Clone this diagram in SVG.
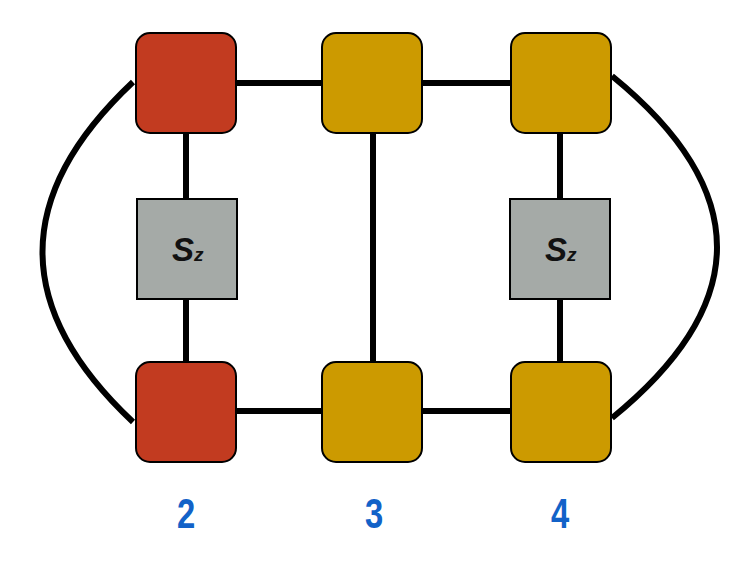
<svg xmlns="http://www.w3.org/2000/svg" width="751" height="564" viewBox="0 0 751 564">
<style>
.red{fill:#c23b20;stroke:#000;stroke-width:2}
.gold{fill:#cc9a00;stroke:#000;stroke-width:2}
.op{fill:#a5aaa7;stroke:#000;stroke-width:2}
.edge{stroke:#000;stroke-width:6;fill:none}
.lbl{font-family:"Liberation Sans",Arial,sans-serif;font-weight:bold;font-size:42px;fill:#1262c8;text-anchor:middle}
.sz{font-family:"Liberation Sans",Arial,sans-serif;font-weight:bold;font-style:italic;fill:#111}
</style>
<rect width="751" height="564" fill="#fff"/>
<g id="connectors">
<line class="edge" x1="236" y1="83" x2="322" y2="83"/>
<line class="edge" x1="422" y1="83" x2="511" y2="83"/>
<line class="edge" x1="236" y1="411" x2="322" y2="411"/>
<line class="edge" x1="422" y1="411" x2="511" y2="411"/>
<line class="edge" x1="186" y1="133" x2="186" y2="199"/>
<line class="edge" x1="186" y1="299" x2="186" y2="362"/>
<line class="edge" x1="373" y1="133" x2="373" y2="362"/>
<line class="edge" x1="560" y1="133" x2="560" y2="199"/>
<line class="edge" x1="560" y1="299" x2="560" y2="362"/>
<path class="edge" d="M133,82 Q-48,252 133,422"/>
<path class="edge" d="M612,76 Q822,247 612,418"/>
</g>
<g id="n2top"><rect class="red" x="136" y="33" width="100" height="100" rx="14"/></g>
<g id="n3top"><rect class="gold" x="322" y="33" width="100" height="100" rx="14"/></g>
<g id="n4top"><rect class="gold" x="511" y="33" width="100" height="100" rx="14"/></g>
<g id="n2bot"><rect class="red" x="136" y="362" width="100" height="100" rx="14"/></g>
<g id="n3bot"><rect class="gold" x="322" y="362" width="100" height="100" rx="14"/></g>
<g id="n4bot"><rect class="gold" x="511" y="362" width="100" height="100" rx="14"/></g>
<g id="sz2"><rect class="op" x="137" y="199" width="100" height="100"/>
<text class="sz" x="172" y="261" font-size="33">S<tspan font-size="19">z</tspan></text></g>
<g id="sz4"><rect class="op" x="510" y="199" width="100" height="100"/>
<text class="sz" x="545" y="261" font-size="33">S<tspan font-size="19">z</tspan></text></g>
<g id="labels">
<text class="lbl" transform="translate(186,528) scale(0.78,1)" x="0" y="0">2</text>
<text class="lbl" transform="translate(374,528) scale(0.78,1)" x="0" y="0">3</text>
<text class="lbl" transform="translate(560,528) scale(0.78,1)" x="0" y="0">4</text>
</g>
</svg>
